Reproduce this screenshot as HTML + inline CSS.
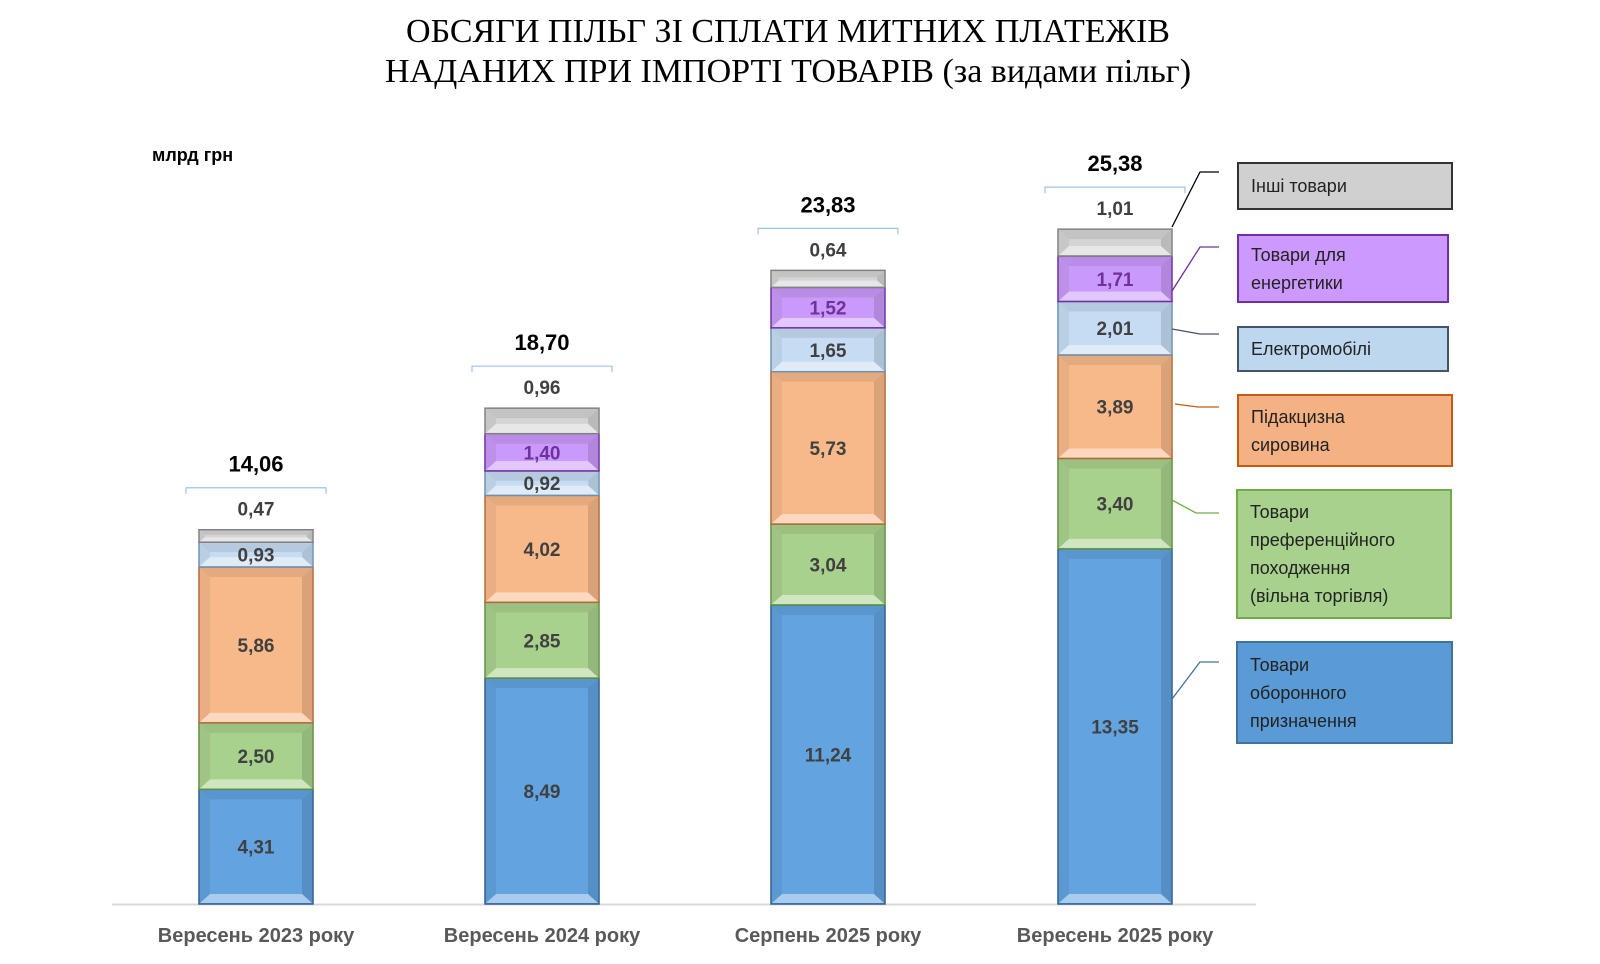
<!DOCTYPE html>
<html><head><meta charset="utf-8">
<style>
html,body{margin:0;padding:0;background:#fff;}
body{width:1600px;height:964px;overflow:hidden;position:relative;font-family:"Liberation Sans","DejaVu Sans",sans-serif;}
.title{position:absolute;left:-12px;width:1600px;text-align:center;font-family:"Liberation Serif",serif;font-size:34px;color:#000;line-height:40px;}
.lg{position:absolute;box-sizing:border-box;border:2px solid #333;font-size:18px;color:#222;padding:0 12px;display:flex;align-items:center;line-height:28px;}
</style></head>
<body>
<div class="title" style="top:12px">ОБСЯГИ ПІЛЬГ ЗІ СПЛАТИ МИТНИХ ПЛАТЕЖІВ</div>
<div class="title" style="top:52px">НАДАНИХ ПРИ ІМПОРТІ ТОВАРІВ (за видами пільг)</div>
<svg id="s" width="1600" height="964" style="position:absolute;left:0;top:0"></svg>
<div class="lg" style="left:1237px;top:162px;width:216px;height:48px;background:#d0d0d0;border-color:#333">Інші товари</div>
<div class="lg" style="left:1237px;top:234px;width:212px;height:69px;background:#cc99ff;border-color:#7030a0">Товари для<br>енергетики</div>
<div class="lg" style="left:1237px;top:326px;width:212px;height:46px;background:#bdd7ee;border-color:#44546a">Електромобілі</div>
<div class="lg" style="left:1237px;top:394px;width:216px;height:73px;background:#f4b183;border-color:#c55a11">Підакцизна<br>сировина</div>
<div class="lg" style="left:1236px;top:489px;width:216px;height:130px;background:#a9d18e;border-color:#70ad47">Товари<br>преференційного<br>походження<br>(вільна торгівля)</div>
<div class="lg" style="left:1236px;top:641px;width:217px;height:103px;background:#5b9bd5;border-color:#41719c">Товари<br>оборонного<br>призначення</div>
<script>
const s=document.getElementById('s');
let h='';
const base=904,k=26.6,w=114;
const cols=[['#62a3e0','#2f5f8f','#404040'],['#a9d18e','#5f8f40','#404040'],['#f8b98a','#b0693a','#404040'],['#c5dcf2','#6f8fb0','#404040'],['#c99af9','#7030a0','#7030a0'],['#d4d4d4','#808080','#404040']];
const data=[[4.31,2.50,5.86,0.93,0,0.47],[8.49,2.85,4.02,0.92,1.40,0.96],[11.24,3.04,5.73,1.65,1.52,0.64],[13.35,3.40,3.89,2.01,1.71,1.01]];
const tot=['14,06','18,70','23,83','25,38'];
const cats=['Вересень 2023 року','Вересень 2024 року','Серпень 2025 року','Вересень 2025 року'];
const lefts=[199,485,771,1058];
h+=`<line x1="112" y1="${base+0.5}" x2="1256" y2="${base+0.5}" stroke="#d9d9d9" stroke-width="2"/>`;
data.forEach((d,i)=>{
 let y=base;const x=lefts[i];const cx=x+w/2;
 d.forEach((v,j)=>{
  if(!v)return;
  const hh=v*k;const t=y-hh;const c=cols[j];
  const b=Math.min(10,hh/2.5);
  h+=`<rect x="${x}" y="${t}" width="${w}" height="${hh}" fill="${c[0]}" stroke="${c[1]}" stroke-width="1.5"/>`;
  h+=`<polygon points="${x+1},${t+1} ${x+w-1},${t+1} ${x+w-1-b},${t+b} ${x+1+b},${t+b}" fill="#000" opacity="0.08"/>`;
  h+=`<polygon points="${x+1},${y-1} ${x+w-1},${y-1} ${x+w-1-b},${y-b} ${x+1+b},${y-b}" fill="#fff" opacity="0.45"/>`;
  h+=`<polygon points="${x+1},${t+1} ${x+1+b},${t+b} ${x+1+b},${y-b} ${x+1},${y-1}" fill="#000" opacity="0.06"/>`;
  h+=`<polygon points="${x+w-1},${t+1} ${x+w-1-b},${t+b} ${x+w-1-b},${y-b} ${x+w-1},${y-1}" fill="#000" opacity="0.12"/>`;
  const lbl=v.toFixed(2).replace('.',',');
  if(j<5) h+=`<text x="${cx}" y="${t+hh/2+7}" text-anchor="middle" font-size="19" font-weight="bold" fill="${c[2]}">${lbl}</text>`;
  else h+=`<text x="${cx}" y="${t-14}" text-anchor="middle" font-size="19" font-weight="bold" fill="#404040">${lbl}</text>`;
  y=t;
 });
 const top=y;
 h+=`<path d="M${cx-70},${top-36} v-6 h140 v6" fill="none" stroke="#9dc3e6" stroke-width="1.2"/>`;
 h+=`<text x="${cx}" y="${top-58}" text-anchor="middle" font-size="22" font-weight="bold" fill="#000">${tot[i]}</text>`;
 h+=`<text x="${cx}" y="942" text-anchor="middle" font-size="20" font-weight="bold" fill="#595959">${cats[i]}</text>`;
});
h+=`<text x="152" y="161" font-size="18" font-weight="bold" fill="#000">млрд грн</text>`;
const L=[['#000','1172,227 1200,172 1219,172'],['#7030a0','1172,291 1200,247 1219,247'],['#44546a','1172,329 1200,334 1219,334'],['#c55a11','1175,404 1198,407 1219,407'],['#70ad47','1172,500 1196,513 1219,513'],['#41719c','1172,699 1200,662 1219,662']];
L.forEach(l=>h+=`<polyline points="${l[1]}" fill="none" stroke="${l[0]}" stroke-width="1.3"/>`);
s.innerHTML=h;
</script>
</body></html>
